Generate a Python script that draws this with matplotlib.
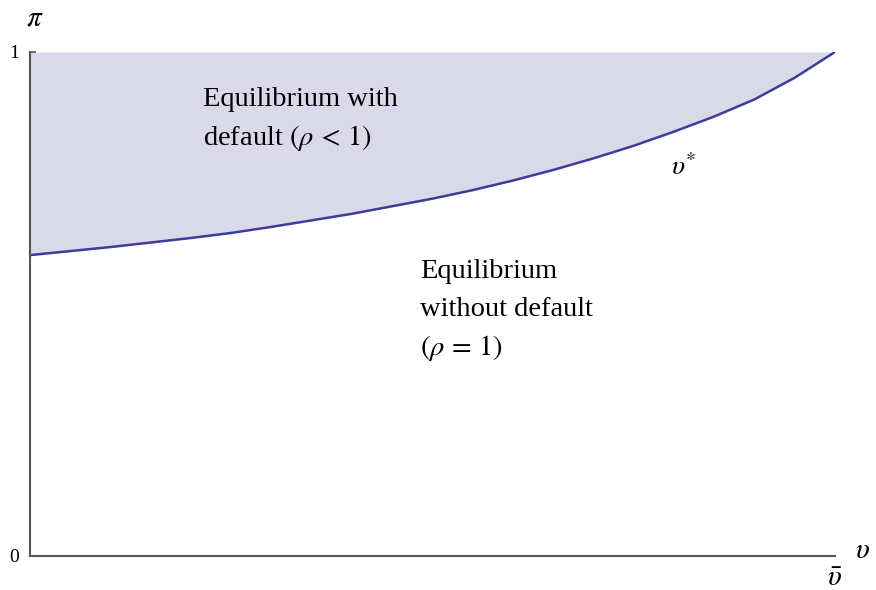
import matplotlib.pyplot as plt

plt.rcParams['font.family'] = ['Liberation Serif', 'DejaVu Serif']
plt.rcParams['mathtext.fontset'] = 'stix'

# threshold curve v*
v = [0.0, 0.05, 0.10, 0.15, 0.20, 0.25, 0.30, 0.35, 0.40, 0.45, 0.50,
     0.55, 0.60, 0.65, 0.70, 0.75, 0.80, 0.85, 0.90, 0.95, 1.0]
pi_star = [0.597, 0.605, 0.613, 0.622, 0.631, 0.641, 0.653, 0.666, 0.679, 0.694, 0.709,
           0.726, 0.745, 0.766, 0.789, 0.814, 0.842, 0.872, 0.906, 0.949, 1.0]

fig = plt.figure(figsize=(8.76, 5.90), dpi=100)
ax = fig.add_axes([30 / 876, 34 / 590, 805 / 876, 504 / 590])

ax.fill_between(v, pi_star, 1, color='#d9d9ea', linewidth=0)
ax.plot(v, pi_star, color='#3c3c9c', lw=1.8, solid_joinstyle='round')

ax.set_xlim(0, 1)
ax.set_ylim(0, 1)
for s in ['top', 'right']:
    ax.spines[s].set_visible(False)
for s in ['left', 'bottom']:
    ax.spines[s].set_color('#555555')
    ax.spines[s].set_linewidth(1.5)
ax.set_xticks([])
ax.set_yticks([0, 1])
ax.set_yticklabels(['0', '1'], fontsize=14)
ax.tick_params(axis='y', direction='in', length=4, width=1.2, color='#555555', pad=8)

fs = 20.5
ax.text(0.215, 0.905, 'Equilibrium with', fontsize=fs, va='center')
ax.text(0.215, 0.83, r'default $(\rho\,<\,1)$', fontsize=fs, va='center')

ax.text(0.485, 0.565, 'Equilibrium', fontsize=fs, va='center')
ax.text(0.485, 0.49, 'without default', fontsize=fs, va='center')
ax.text(0.485, 0.412, r'$(\rho\,=\,1)$', fontsize=fs, va='center')

ax.text(0.812, 0.77, r'$\upsilon^{*}$', fontsize=20, ha='center', va='center')

ax.text(0.006, 1.067, r'$\pi$', fontsize=21, ha='center', va='center', clip_on=False)
ax.text(1.034, 0.01, r'$\upsilon$', fontsize=21, ha='center', va='center', clip_on=False)
ax.text(1.0, -0.045, r'$\bar{\upsilon}$', fontsize=21, ha='center', va='center', clip_on=False)

fig.savefig('out.png', dpi=100)
